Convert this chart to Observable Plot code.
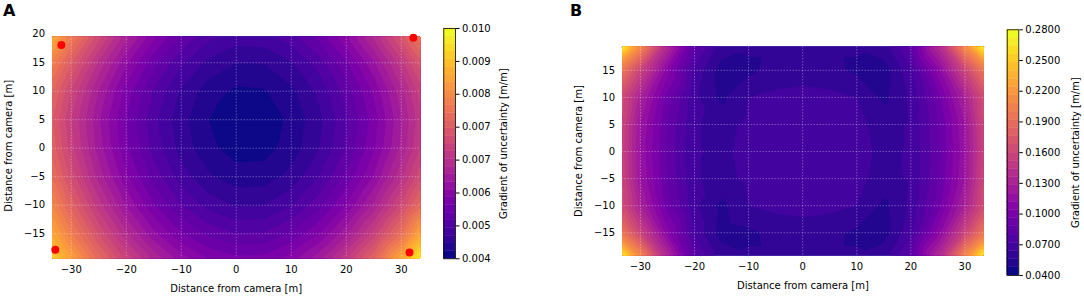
<!DOCTYPE html>
<html><head><meta charset="utf-8">
<script src="https://cdn.jsdelivr.net/npm/d3@7"></script>
<script src="https://cdn.jsdelivr.net/npm/@observablehq/plot@0.6"></script>
<style>
body{margin:0;background:#fff;}
#root{position:relative;width:1084px;height:297px;overflow:hidden;font-family:"DejaVu Sans",sans-serif;color:#000;}
#root > *{position:absolute;}
.letter{font-weight:bold;font-size:16px;line-height:16px;}
</style></head><body><div id="root"></div>
<script>
// ---- data ----
const gridX = [-35,-30,-25,-20,-15,-10,-5,0,5,10,15,20,25,30,35];
const gridY = [20,15,10,5,0,-5,-10,-15,-20];
// Panel A: gradient of uncertainty [m/m] sampled on gridX x gridY
const gradA = [
  [0.00922,0.00810,0.00714,0.00633,0.00569,0.00522,0.00489,0.00474,0.00476,0.00494,0.00529,0.00581,0.00648,0.00732,0.00831],
  [0.00842,0.00742,0.00656,0.00584,0.00526,0.00483,0.00454,0.00440,0.00441,0.00458,0.00489,0.00536,0.00597,0.00672,0.00760],
  [0.00791,0.00699,0.00619,0.00552,0.00498,0.00457,0.00429,0.00416,0.00418,0.00435,0.00465,0.00508,0.00564,0.00633,0.00716],
  [0.00770,0.00681,0.00603,0.00539,0.00486,0.00447,0.00420,0.00405,0.00407,0.00425,0.00454,0.00496,0.00550,0.00618,0.00697],
  [0.00780,0.00689,0.00610,0.00545,0.00492,0.00452,0.00425,0.00411,0.00412,0.00429,0.00459,0.00501,0.00557,0.00625,0.00706],
  [0.00807,0.00713,0.00632,0.00565,0.00511,0.00470,0.00443,0.00429,0.00430,0.00447,0.00479,0.00524,0.00582,0.00655,0.00740],
  [0.00852,0.00754,0.00670,0.00599,0.00542,0.00500,0.00472,0.00458,0.00460,0.00478,0.00512,0.00561,0.00625,0.00705,0.00799],
  [0.00906,0.00805,0.00717,0.00645,0.00586,0.00542,0.00514,0.00500,0.00502,0.00522,0.00559,0.00615,0.00688,0.00779,0.00909],
  [0.00976,0.00872,0.00779,0.00703,0.00642,0.00597,0.00567,0.00552,0.00554,0.00578,0.00620,0.00685,0.00768,0.00888,0.01030]
];
// Panel B
const gradB = [
  [0.320,0.220,0.140,0.085,0.062,0.058,0.058,0.058,0.058,0.058,0.062,0.085,0.140,0.220,0.320],
  [0.215,0.158,0.108,0.070,0.052,0.054,0.059,0.060,0.059,0.054,0.052,0.070,0.108,0.158,0.215],
  [0.180,0.130,0.092,0.066,0.054,0.064,0.066,0.067,0.066,0.064,0.054,0.066,0.092,0.130,0.180],
  [0.178,0.120,0.087,0.065,0.061,0.066,0.068,0.068,0.068,0.066,0.061,0.065,0.087,0.120,0.178],
  [0.175,0.118,0.086,0.065,0.062,0.067,0.068,0.068,0.068,0.067,0.062,0.065,0.086,0.118,0.175],
  [0.178,0.120,0.087,0.065,0.061,0.066,0.068,0.068,0.068,0.066,0.061,0.065,0.087,0.120,0.178],
  [0.180,0.130,0.092,0.066,0.054,0.064,0.066,0.067,0.066,0.064,0.054,0.066,0.092,0.130,0.180],
  [0.215,0.158,0.108,0.070,0.052,0.054,0.059,0.060,0.059,0.054,0.052,0.070,0.108,0.158,0.215],
  [0.320,0.220,0.140,0.085,0.062,0.058,0.058,0.058,0.058,0.058,0.062,0.085,0.140,0.220,0.320]
];
// camera positions (panel A red dots)
const camX = [-31.8, 32.2, -32.9, 31.5];
const camY = [18.1, 19.4, -17.8, -18.3];
// ticks
const xTicks = [-30,-20,-10,0,10,20,30];
const yTicksA = [-15,-10,-5,0,5,10,15,20];
const yTicksB = [-15,-10,-5,0,5,10,15];
const cbTicksA = [0.004,0.004857,0.005714,0.006571,0.007429,0.008286,0.009143,0.010];
const cbLabelsA = ["0.004","0.005","0.006","0.007","0.007","0.008","0.009","0.010"];
const cbTicksB = [0.04,0.07,0.10,0.13,0.16,0.19,0.22,0.25,0.28];
const cbLabelsB = ["0.0400","0.0700","0.1000","0.1300","0.1600","0.1900","0.2200","0.2500","0.2800"];
const levelsA = d3.range(30).map(i => 0.004 + i * 0.0002);
const levelsB = d3.range(30).map(i => 0.04 + i * 0.008);
const xLabel = "Distance from camera [m]";
const yLabel = "Distance from camera [m]";
const cbLabel = "Gradient of uncertainty [m/m]";

// ---- build ----
const root = document.getElementById("root");
const fmt = d => d < 0 ? "\u2212" + Math.abs(d) : String(d);
const style = {fontFamily: "DejaVu Sans", fontSize: "10px", color: "#000", background: "transparent", overflow: "visible"};
function points(vals) {
  const out = [];
  gridY.forEach((y, j) => gridX.forEach((x, i) => out.push({x, y, v: vals[j][i]})));
  return out;
}
function place(el, left, top) { el.style.left = left + "px"; el.style.top = top + "px"; root.appendChild(el); }

function panel({vals, levels, xDom, yDom, img, yTicks, W, H, mL, mR, mT, mB, dots}) {
  return Plot.plot({
    width: W, height: H, marginLeft: mL, marginRight: mR, marginTop: mT, marginBottom: mB,
    style,
    x: {domain: xDom, ticks: xTicks, tickSize: 0, tickPadding: 7, tickFormat: fmt, label: xLabel, labelAnchor: "center", labelArrow: "none", labelOffset: 33},
    y: {domain: yDom, ticks: yTicks, tickSize: 0, tickPadding: 7, tickFormat: fmt, label: yLabel, labelAnchor: "center", labelArrow: "none", labelOffset: 47},
    color: {type: "linear", scheme: "plasma", domain: [levels[0], levels[levels.length - 1]]},
    marks: [
      Plot.contour(points(vals), {x: "x", y: "y", fill: "v", thresholds: levels, interpolate: "barycentric",
        x1: img[0], x2: img[1], y1: img[2], y2: img[3]}),
      Plot.gridX(xTicks, {stroke: "white", strokeOpacity: 0.4, strokeWidth: 0.8, strokeDasharray: "1.5,1.5"}),
      Plot.gridY(yTicks, {stroke: "white", strokeOpacity: 0.4, strokeWidth: 0.8, strokeDasharray: "1.5,1.5"}),
      ...(dots ? [Plot.dot(camX.map((x, i) => ({x, y: camY[i]})), {x: "x", y: "y", r: 4, fill: "#ff0000", stroke: "none"})] : [])
    ]
  });
}

function colorbar({levels, top, ticks, labels, W, H, mL, mR, mT, mB, offset}) {
  const bands = levels.map((l, i) => ({y1: l, y2: i < levels.length - 1 ? levels[i + 1] : top, v: l}));
  return Plot.plot({
    width: W, height: H, marginLeft: mL, marginRight: mR, marginTop: mT, marginBottom: mB,
    style,
    x: {domain: [0, 1], axis: null},
    y: {domain: [levels[0], top], axis: "right", ticks, tickFormat: d => labels[ticks.indexOf(d)], tickSize: 3.5, tickPadding: 3,
        label: cbLabel, labelAnchor: "center", labelArrow: "none", labelOffset: offset},
    color: {type: "linear", scheme: "plasma", domain: [levels[0], levels[levels.length - 1]]},
    marks: [
      Plot.rect(bands, {x1: 0, x2: 1, y1: "y1", y2: "y2", fill: "v", stroke: "v", strokeWidth: 0.4}),
      Plot.frame({stroke: "#000", strokeWidth: 0.8})
    ]
  });
}

// Panel A
const pA = panel({vals: gradA, levels: levelsA, xDom: [-33.5, 33.5], yDom: [-19.35, 20.2], img: [-33.5, 33.5, -19.35, 19.6],
  yTicks: yTicksA, W: 430, H: 297, mL: 51.5, mR: 10, mT: 32.6, mB: 39, dots: true});
place(pA, 0, 0);
const cA = colorbar({levels: levelsA, top: 0.010, ticks: cbTicksA, labels: cbLabelsA, W: 110, H: 297,
  mL: 13.3, mR: 85, mT: 28, mB: 38.7, offset: 51});
place(cA, 430, 0);
// Panel B
const pB = panel({vals: gradB, levels: levelsB, xDom: [-33.4, 33.5], yDom: [-19.2, 19.4], img: [-33.4, 33.5, -19.2, 19.4],
  yTicks: yTicksB, W: 440, H: 297, mL: 61.5, mR: 16.6, mT: 46, mB: 42, dots: false});
place(pB, 560, 0);
const cB = colorbar({levels: levelsB, top: 0.28, ticks: cbTicksB, labels: cbLabelsB, W: 94, H: 297,
  mL: 16.7, mR: 65.7, mT: 29.3, mB: 22, offset: 60});
place(cB, 990, 0);

// panel letters
for (const [t, l] of [["A", 3], ["B", 570]]) {
  const d = document.createElement("div");
  d.className = "letter"; d.textContent = t;
  place(d, l, 3);
}
</script></body></html>
